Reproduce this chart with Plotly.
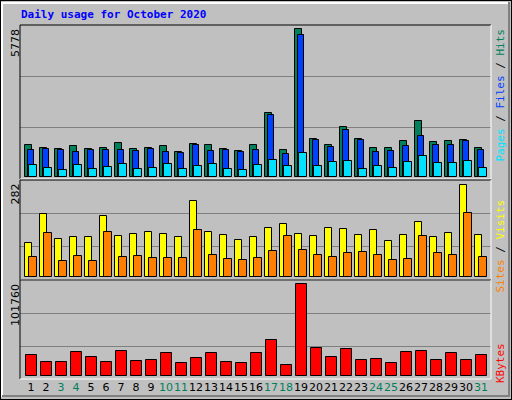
import plotly.graph_objects as go

days = list(range(1, 32))
weekend = {3, 4, 10, 11, 17, 18, 24, 25, 31}
hits = [1229,1111,1072,1189,1072,1111,1307,1072,1111,1189,954,1268,1229,1072,993,1229,2483,1033,5778,1464,1229,1934,1464,1111,1111,1385,2170,1346,1385,1425,1111]
files = [1033,1072,1033,954,1033,1033,1033,993,1072,954,915,1229,993,1033,954,1033,2405,876,5542,1425,1150,1817,1425,954,993,1189,1581,1229,1229,1385,1033]
pages = [444,327,248,444,288,366,484,288,327,484,288,405,484,288,248,444,640,405,915,405,562,601,288,405,327,562,797,523,523,601,327]
visits = [102,191,114,121,121,185,124,130,136,130,121,231,136,127,111,121,148,160,130,124,148,145,127,142,108,127,167,121,133,282,127]
sites = [59,133,47,62,47,136,59,62,56,56,56,142,65,53,50,56,78,124,81,68,59,72,75,68,50,53,124,72,65,194,59]
kbytes = [22655,14856,14856,26000,20428,14856,27113,15971,17085,24885,13743,19314,24885,14856,13743,24885,39371,11514,101760,30457,20428,29343,17085,18200,13743,26000,27113,17085,24885,17085,22655]
max_labels = ["5778", "282", "101760"]

W, H = 512, 400
def py(px):
    return 1 - px / H

fig = go.Figure()
line = dict(color="black", width=1)
def bars(vals, off, width, color, ax):
    fig.add_trace(go.Bar(x=[d + off for d in days], y=vals, width=width,
                         marker=dict(color=color, line=line), xaxis="x", yaxis=ax,
                         showlegend=False, hoverinfo="skip"))

bars(hits, -0.153, 0.47, "#00805C", "y")
bars(files, 0.0, 0.45, "#0040FF", "y")
bars(pages, 0.133, 0.47, "#00E0FF", "y")
bars(visits, -0.153, 0.47, "#FFFF00", "y2")
bars(sites, 0.133, 0.47, "#FF8000", "y2")
bars(kbytes, 0.02, 0.71, "#FF0000", "y3")

x0 = 0.267
xr = [x0, x0 + 471 / 15]
panels = [(25, 179, [-90, 5947], [1935, 3935]),
          (180, 280, [-10, 296], [93, 194]),
          (280, 379, [-3700, 106600], [33050, 69400])]
ticktext = [f"<span style='color:{'#00805C' if d in weekend else 'black'}'>{d}</span>" for d in days]
layout = dict(
    width=W, height=H, margin=dict(l=0, r=0, t=0, b=0, autoexpand=False),
    paper_bgcolor="#C0C0C0", plot_bgcolor="#C0C0C0", barmode="overlay",
    bargap=0,
    font=dict(family="DejaVu Sans Mono", size=11, color="black"),
    xaxis=dict(domain=[20 / W, 491 / W], range=xr, showgrid=False, zeroline=False,
               tickvals=days, ticktext=ticktext, ticks="", anchor="y3", tickangle=0,
               automargin=False, fixedrange=True,
               tickfont=dict(family="DejaVu Sans", size=11)),
)
names = ["yaxis", "yaxis2", "yaxis3"]
for i, (top, bot, rng, grid) in enumerate(panels):
    layout[names[i]] = dict(domain=[py(bot), py(top)], range=rng, tickvals=grid,
                            showticklabels=False, gridcolor="#808080", gridwidth=1,
                            zeroline=False, fixedrange=True, automargin=False)
fig.update_layout(**layout)

shapes = []
shapes.append(dict(type="rect", xref="paper", yref="paper", x0=0, x1=1, y0=0, y1=1,
                   line=dict(color="black", width=2)))
shapes.append(dict(type="line", xref="paper", yref="paper", x0=2/W, x1=2/W, y0=py(397), y1=py(2),
                   line=dict(color="white", width=2)))
shapes.append(dict(type="line", xref="paper", yref="paper", x0=2/W, x1=509/W, y0=py(3), y1=py(3),
                   line=dict(color="white", width=2)))
shapes.append(dict(type="line", xref="paper", yref="paper", x0=509/W, x1=509/W, y0=py(397), y1=py(2),
                   line=dict(color="#808080", width=2)))
shapes.append(dict(type="line", xref="paper", yref="paper", x0=2/W, x1=509/W, y0=py(396), y1=py(396),
                   line=dict(color="#808080", width=2)))
for top, bot, _, _ in panels:
    shapes.append(dict(type="line", xref="paper", yref="paper", x0=20/W, x1=491/W, y0=py(top), y1=py(top), line=dict(color="black", width=1)))
    shapes.append(dict(type="line", xref="paper", yref="paper", x0=20/W, x1=20/W, y0=py(bot), y1=py(top), line=dict(color="black", width=1)))
    shapes.append(dict(type="line", xref="paper", yref="paper", x0=491/W, x1=491/W, y0=py(bot), y1=py(top), line=dict(color="white", width=1)))
    shapes.append(dict(type="line", xref="paper", yref="paper", x0=20/W, x1=491/W, y0=py(bot), y1=py(bot), line=dict(color="white", width=1)))
fig.update_layout(shapes=shapes)

ann = [dict(text="<b>Daily usage for October 2020</b>", x=19/W, y=py(15), xref="paper", yref="paper",
            xanchor="left", yanchor="middle", showarrow=False,
            font=dict(family="DejaVu Sans Mono", size=11, color="#0000FF"))]
for (top, bot, _, _), lab in zip(panels, max_labels):
    ann.append(dict(text=lab, textangle=-90, x=15/W, y=py(top + 2), xref="paper", yref="paper",
                    xanchor="center", yanchor="top", showarrow=False,
                    font=dict(family="DejaVu Sans", size=11, color="black")))
def right_label(parts, top):
    ann.append(dict(text="".join(f"<span style='color:{c}'>{t}</span>" for t, c in parts),
                    textangle=-90, x=500/W, y=py(top), xref="paper", yref="paper",
                    xanchor="center", yanchor="top", showarrow=False,
                    font=dict(family="DejaVu Sans Mono", size=11)))
right_label([("Pages", "#00E0FF"), (" / ", "black"), ("Files", "#0040FF"), (" / ", "black"), ("Hits", "#00805C")], 27)
right_label([("Sites", "#FF8000"), (" / ", "black"), ("Visits", "#FFFF00")], 198)
right_label([("KBytes", "#FF0000")], 341)
fig.update_layout(annotations=ann)
fig.write_html("out.html", config={"displayModeBar": False})

with open("out.html", encoding="utf-8") as f:
    html = f.read()
html = html.replace("<head>", "<head><style>html,body{margin:0;padding:0;overflow:hidden}</style>", 1)
with open("out.html", "w", encoding="utf-8") as f:
    f.write(html)
